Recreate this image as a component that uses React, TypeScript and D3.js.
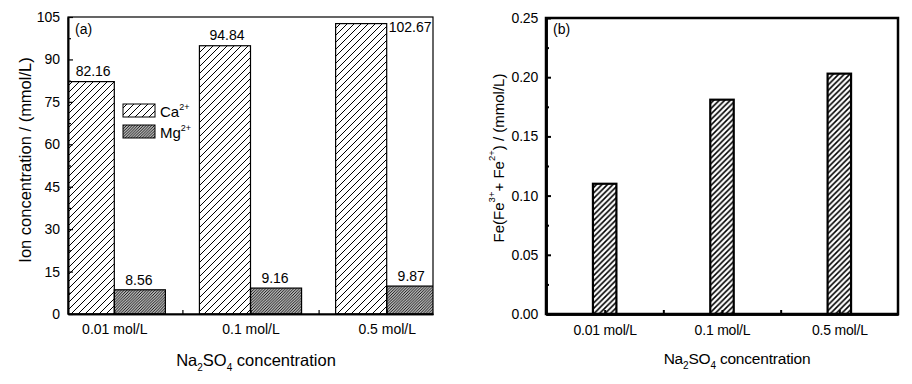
import { useEffect, useRef } from 'react';
import * as d3 from 'd3';

const categories = ['0.01 mol/L', '0.1 mol/L', '0.5 mol/L'];
const caValues = [82.16, 94.84, 102.67];
const mgValues = [8.56, 9.16, 9.87];
const feValues = [0.11, 0.181, 0.203];
const yTicksA = [0, 15, 30, 45, 60, 75, 90, 105];
const yTicksB = [0, 0.05, 0.1, 0.15, 0.2, 0.25];

const FONT = '"Liberation Sans", Arial, Helvetica, sans-serif';

function hatch(defs: d3.Selection<SVGDefsElement, unknown, null, undefined>, id: string, s: number, w: number) {
  defs.append('pattern').attr('id', id).attr('patternUnits', 'userSpaceOnUse')
    .attr('width', s).attr('height', s)
    .append('path')
    .attr('d', `M-1,1 l2,-2 M0,${s} l${s},${-s} M${s - 1},${s + 1} l2,-2`)
    .attr('stroke', '#000').attr('stroke-width', w);
}

export default function App() {
  const svgRef = useRef<SVGSVGElement>(null);

  useEffect(() => {
    const svg = d3.select(svgRef.current!);
    svg.selectAll('*').remove();
    const defs = svg.append('defs');
    hatch(defs, 'hatch-ca', 7, 1);
    hatch(defs, 'hatch-mg', 2.8, 1);
    hatch(defs, 'hatch-fe', 5.5, 1.6);

    // ---------- panel (a) ----------
    const A = { left: 68, top: 17, right: 433, bottom: 314 };
    const xA = d3.scaleLinear().domain([0.66, 3.34]).range([A.left, A.right]);
    const yA = d3.scaleLinear().domain([0, 105]).range([A.bottom, A.top]);
    const bwA = xA(1.375) - xA(1);

    defs.append('clipPath').attr('id', 'clip-a').append('rect')
      .attr('x', A.left).attr('y', A.top).attr('width', A.right - A.left).attr('height', A.bottom - A.top);

    const ga = svg.append('g');
    const barsA = ga.append('g').attr('clip-path', 'url(#clip-a)');
    barsA.selectAll('.ca').data(caValues).join('rect')
      .attr('x', (_, i) => xA(i + 1) - bwA).attr('y', (d) => yA(d))
      .attr('width', bwA).attr('height', (d) => A.bottom - yA(d))
      .attr('fill', 'url(#hatch-ca)').attr('stroke', '#000').attr('stroke-width', 1.2);
    barsA.selectAll('.mg').data(mgValues).join('rect')
      .attr('x', (_, i) => xA(i + 1)).attr('y', (d) => yA(d))
      .attr('width', bwA).attr('height', (d) => A.bottom - yA(d))
      .attr('fill', 'url(#hatch-mg)').attr('stroke', '#000').attr('stroke-width', 1.2);

    caValues.forEach((v, i) => {
      const x0 = Math.max(A.left, xA(i + 1) - bwA), x1 = Math.min(A.right, xA(i + 1));
      const y = yA(v) - 6;
      const beside = y < A.top + 12;
      ga.append('text')
        .attr('x', beside ? x1 + 2 : (x0 + x1) / 2 + 2)
        .attr('y', beside ? yA(v) + 8 : y)
        .attr('text-anchor', beside ? 'start' : 'middle')
        .attr('font-size', 14).attr('font-family', FONT).text(v.toFixed(2));
    });
    mgValues.forEach((v, i) => {
      ga.append('text').attr('x', xA(i + 1) + bwA / 2 - 1).attr('y', yA(v) - 5)
        .attr('text-anchor', 'middle').attr('font-size', 14).attr('font-family', FONT).text(v.toFixed(2));
    });

    ga.append('rect').attr('x', A.left).attr('y', A.top)
      .attr('width', A.right - A.left).attr('height', A.bottom - A.top)
      .attr('fill', 'none').attr('stroke', '#000').attr('stroke-width', 1.2);

    const axA = ga.append('g').attr('transform', `translate(${A.left},0)`)
      .call(d3.axisLeft(yA).tickValues(yTicksA).tickSize(-5).tickSizeOuter(0).tickPadding(8));
    ga.append('g').attr('transform', `translate(${A.left},0)`)
      .call(d3.axisLeft(yA).tickValues(yTicksA.slice(0, -1).map((t) => t + 7.5)).tickSize(-3).tickSizeOuter(0).tickFormat(() => ''));
    const axAx = ga.append('g').attr('transform', `translate(0,${A.bottom})`)
      .call(d3.axisBottom(xA).tickValues([1, 2, 3]).tickSize(-4).tickSizeOuter(0).tickPadding(10)
        .tickFormat((d) => categories[(d as number) - 1]));
    ga.append('g').attr('transform', `translate(0,${A.bottom})`)
      .call(d3.axisBottom(xA).tickValues([1.5, 2.5]).tickSize(-4).tickSizeOuter(0).tickFormat(() => ''));
    ga.selectAll('.domain').attr('stroke-width', 1.6);
    ga.selectAll('.tick line').attr('stroke-width', 1.2);
    [axA, axAx].forEach((a) => a.selectAll('text').attr('font-size', 14).attr('font-family', FONT).attr('fill', '#000'));

    ga.append('text').attr('x', 75).attr('y', 34).attr('font-size', 14).attr('font-family', FONT).text('(a)');

    // legend
    const legA = [{ id: 'hatch-ca', name: 'Ca' }, { id: 'hatch-mg', name: 'Mg' }];
    legA.forEach((l, i) => {
      const y = 104 + i * 21;
      ga.append('rect').attr('x', 123).attr('y', y).attr('width', 32).attr('height', 13)
        .attr('fill', `url(#${l.id})`).attr('stroke', '#000').attr('stroke-width', 1);
      const t = ga.append('text').attr('x', 160).attr('y', y + 13).attr('font-size', 15).attr('font-family', FONT);
      t.append('tspan').text(l.name);
      t.append('tspan').attr('font-size', 9).attr('dy', -7).text('2+');
    });

    ga.append('text').attr('transform', 'translate(25,160) rotate(-90)')
      .attr('text-anchor', 'middle').attr('dominant-baseline', 'central')
      .attr('font-size', 16.5).attr('font-family', FONT).text('Ion concentration / (mmol/L)');

    const tA = ga.append('text').attr('x', 256).attr('y', 366).attr('text-anchor', 'middle')
      .attr('font-size', 16.5).attr('font-family', FONT);
    tA.append('tspan').text('Na');
    tA.append('tspan').attr('font-size', 10).attr('dy', 5).text('2');
    tA.append('tspan').attr('dy', -5).text('SO');
    tA.append('tspan').attr('font-size', 10).attr('dy', 5).text('4');
    tA.append('tspan').attr('dy', -5).text(' concentration');

    // ---------- panel (b) ----------
    const B = { left: 546, top: 18, right: 898, bottom: 314 };
    const xB = d3.scaleLinear().domain([0.5, 3.5]).range([B.left, B.right]);
    const yB = d3.scaleLinear().domain([0, 0.25]).range([B.bottom, B.top]);
    const bwB = xB(1.2) - xB(1);

    const gb = svg.append('g');
    gb.selectAll('.fe').data(feValues).join('rect')
      .attr('x', (_, i) => xB(i + 1) - bwB / 2).attr('y', (d) => yB(d))
      .attr('width', bwB).attr('height', (d) => B.bottom - yB(d))
      .attr('fill', 'url(#hatch-fe)').attr('stroke', '#000').attr('stroke-width', 2.2);

    gb.append('rect').attr('x', B.left).attr('y', B.top)
      .attr('width', B.right - B.left).attr('height', B.bottom - B.top)
      .attr('fill', 'none').attr('stroke', '#000').attr('stroke-width', 2.5);

    const axB = gb.append('g').attr('transform', `translate(${B.left},0)`)
      .call(d3.axisLeft(yB).tickValues(yTicksB).tickSize(-5).tickSizeOuter(0).tickPadding(8)
        .tickFormat((d) => (d as number).toFixed(2)));
    gb.append('g').attr('transform', `translate(${B.left},0)`)
      .call(d3.axisLeft(yB).tickValues(yTicksB.slice(0, -1).map((t) => t + 0.025)).tickSize(-3).tickSizeOuter(0).tickFormat(() => ''));
    const axBx = gb.append('g').attr('transform', `translate(0,${B.bottom})`)
      .call(d3.axisBottom(xB).tickValues([1, 2, 3]).tickSize(-4).tickSizeOuter(0).tickPadding(11)
        .tickFormat((d) => categories[(d as number) - 1]));
    gb.append('g').attr('transform', `translate(0,${B.bottom})`)
      .call(d3.axisBottom(xB).tickValues([1.5, 2.5]).tickSize(-4).tickSizeOuter(0).tickFormat(() => ''));
    gb.selectAll('.domain').attr('stroke-width', 2.5);
    gb.selectAll('.tick line').attr('stroke-width', 2);
    [axB, axBx].forEach((a) => a.selectAll('text').attr('font-size', 14).attr('font-family', FONT)
      .attr('fill', '#000').attr('letter-spacing', -0.2));

    gb.append('text').attr('x', 553).attr('y', 34).attr('font-size', 14).attr('font-family', FONT).text('(b)');

    const yl = gb.append('text').attr('transform', 'translate(498,158) rotate(-90)')
      .attr('text-anchor', 'middle').attr('dominant-baseline', 'central')
      .attr('font-size', 15).attr('font-family', FONT);
    yl.append('tspan').text('Fe(Fe');
    yl.append('tspan').attr('font-size', 9.5).attr('dy', -7).text('3+');
    yl.append('tspan').attr('dy', 7).text('+ Fe');
    yl.append('tspan').attr('font-size', 9.5).attr('dy', -7).text('2+');
    yl.append('tspan').attr('dy', 7).text(') / (mmol/L)');

    const tB = gb.append('text').attr('x', 737).attr('y', 364).attr('text-anchor', 'middle')
      .attr('font-size', 15.5).attr('font-family', FONT).attr('letter-spacing', -0.2);
    tB.append('tspan').text('Na');
    tB.append('tspan').attr('font-size', 10).attr('dy', 5).text('2');
    tB.append('tspan').attr('dy', -5).text('SO');
    tB.append('tspan').attr('font-size', 10).attr('dy', 5).text('4');
    tB.append('tspan').attr('dy', -5).text(' concentration');
  }, []);

  return (
    <div style={{ position: 'fixed', left: 0, top: 0, width: 912, height: 384, background: '#fff' }}>
      <svg ref={svgRef} width={912} height={384} style={{ display: 'block' }} />
    </div>
  );
}
